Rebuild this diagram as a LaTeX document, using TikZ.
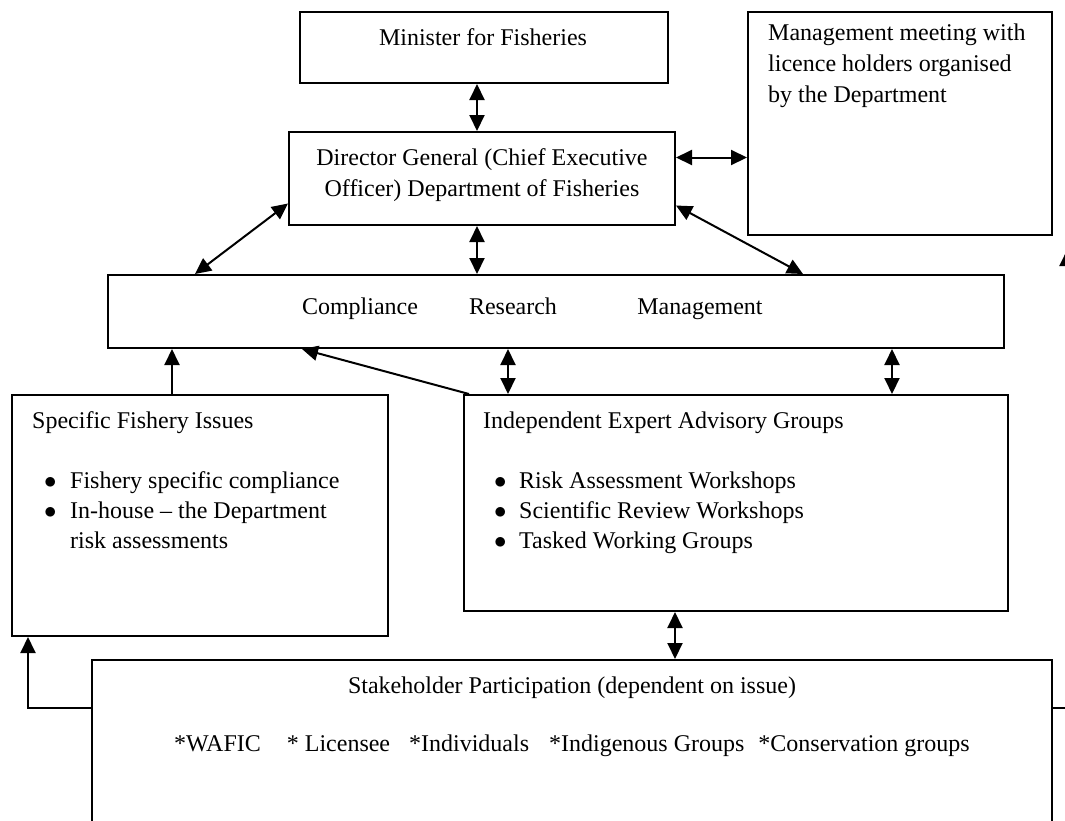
\documentclass[tikz,border=0pt]{standalone}
\usepackage{fontspec}
\setmainfont{Liberation Serif}
\usetikzlibrary{arrows.meta}

\begin{document}
\begin{tikzpicture}[
    x=1pt, y=-1pt,
    orgbox/.style={
        draw,
        line width=2pt,
        inner sep=0pt
    },
    boxtext/.style={
        font=\fontsize{24}{31}\selectfont,
        inner sep=0pt
    },
    listtext/.style={
        font=\fontsize{24}{30}\selectfont,
        align=left,
        anchor=north west,
        inner sep=0pt
    },
    twoway/.style={{Triangle[length=16pt,width=15pt]}-{Triangle[length=16pt,width=15pt]}, line width=2pt},
    oneway/.style={-{Triangle[length=16pt,width=15pt]}, line width=2pt}
]

\clip (0,0) rectangle (1065,820);

\node[orgbox, minimum width=368pt, minimum height=71pt] (minister) at (484,47.5) {};
\node[boxtext, anchor=base] (minister_text) at (483,45) {Minister for Fisheries};

\node[orgbox, minimum width=304pt, minimum height=223pt] (meeting) at (900,123.5) {};
\node[boxtext, anchor=north west, align=left] (meeting_text) at (768,23.6) {
Management meeting with\\
licence holders organised\\
by the Department
};

\node[orgbox, minimum width=386pt, minimum height=93pt] (dg) at (482,178.5) {};
\node[boxtext, anchor=north, align=center] (dg_text) at (482,148.6) {
Director General (Chief Executive\\
Officer) Department of Fisheries
};

\node[orgbox, minimum width=896pt, minimum height=73pt] (units) at (556,311.5) {};
\node[boxtext, anchor=base] (compliance) at (360,314) {Compliance};
\node[boxtext, anchor=base] (research) at (513,314) {Research};
\node[boxtext, anchor=base] (management) at (700,314) {Management};

\node[orgbox, minimum width=376pt, minimum height=241pt] (specific) at (200,515.5) {};
\node[boxtext, anchor=base west] (specific_title) at (32,428) {Specific Fishery Issues};
\node[listtext] (specific_list) at (44,471.6) {
\makebox[26pt][l]{$\bullet$}Fishery specific compliance\\
\makebox[26pt][l]{$\bullet$}In-house -- the Department\\
\hspace*{26pt}risk assessments
};

\node[orgbox, minimum width=544pt, minimum height=216pt] (experts) at (736,503) {};
\node[boxtext, anchor=base west] (experts_title) at (483,428) {Independent Expert Advisory Groups};
\node[listtext] (experts_list) at (494,471.6) {
\makebox[25pt][l]{$\bullet$}Risk Assessment Workshops\\
\makebox[25pt][l]{$\bullet$}Scientific Review Workshops\\
\makebox[25pt][l]{$\bullet$}Tasked Working Groups
};

\node[orgbox, minimum width=960pt, minimum height=165pt] (stakeholders) at (572,742.5) {};
\node[boxtext, anchor=base] (stakeholders_title) at (572,693) {Stakeholder Participation (dependent on issue)};
\node[boxtext, anchor=base west] (stakeholders_list) at (174,751) {*WAFIC\hspace{26pt}* Licensee\hspace{19pt}*Individuals\hspace{20pt}*Indigenous Groups\hspace{14pt}*Conservation groups};

\coordinate (offpage) at (1067,250);

\draw[twoway] ([xshift=-7pt]minister.south) -- ([xshift=-5pt]dg.north);
\draw[twoway] ([yshift=21pt]dg.east) -- ([yshift=21pt]dg.east -| meeting.west);
\draw[twoway] ([xshift=-5pt]dg.south) -- ([xshift=-79pt]units.north);
\draw[twoway] ([yshift=-25pt]dg.west) -- ([xshift=-361pt]units.north);
\draw[twoway] ([yshift=-27pt]dg.east) -- ([xshift=247pt]units.north);

\draw[oneway] ([xshift=-28pt]specific.north) -- ([xshift=-28pt]specific.north |- units.south);
\draw[oneway] ([xshift=6pt]experts.north west) -- ([xshift=-254pt]units.south);
\draw[twoway] ([xshift=-48pt]units.south) -- ([xshift=-48pt]units.south |- experts.north);
\draw[twoway] ([xshift=336pt]units.south) -- ([xshift=336pt]units.south |- experts.north);
\draw[twoway] ([xshift=-61pt]experts.south) -- ([xshift=-61pt]experts.south |- stakeholders.north);

\draw[oneway] ([yshift=35pt]stakeholders.west) -| ([xshift=-172pt]specific.south);
\draw[oneway] ([yshift=35pt]stakeholders.east) -| (offpage);

\end{tikzpicture}
\end{document}
